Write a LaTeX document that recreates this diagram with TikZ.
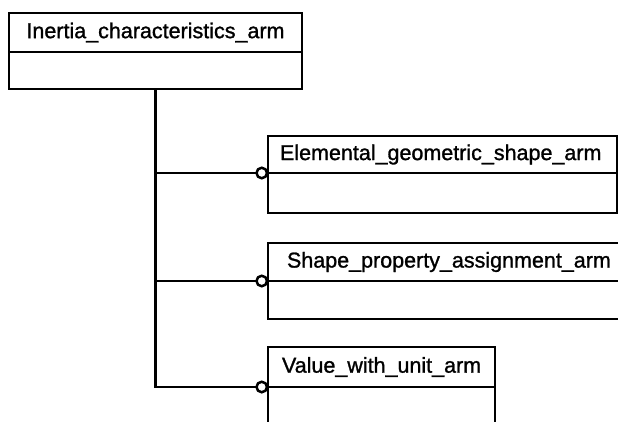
\documentclass[tikz,border=0pt]{standalone}
\usepackage{fontspec}
\setmainfont{Liberation Sans}
\newfontfamily\entfont[FakeBold=1.2]{Liberation Sans}
\usepackage{tikz}
\usetikzlibrary{positioning}

\tikzset{
	entity/.style={draw, line width=2.5pt, inner sep=0pt, outer sep=0pt, font=\entfont\fontsize{21.5}{25}\selectfont},
	ring/.style={circle, draw, fill=white, line width=2.5pt, inner sep=0pt, outer sep=0pt, minimum size=10.5pt, anchor=east},
	conn/.style={line width=2.5pt},
}

\begin{document}
\begin{tikzpicture}[x=1pt, y=-1pt]
		\useasboundingbox (0,0) rectangle (618,422);
		\clip (0,0) rectangle (618,422);
		%coordinates
		\coordinate (ULI) at (9,13);
		\coordinate (ULE) at (268,136);
		\coordinate (ULS) at (268,243);
		\coordinate (ULV) at (268,347);
		
		%nodes
		\node[entity, anchor=north west, minimum width=293, minimum height=39, align=center] (ihead) at (ULI) {Inertia\_characteristics\_arm};
		\node[entity, minimum width=293, minimum height=37, below=0pt of ihead] (ibody) {};
		
		\node[entity, anchor=north west, minimum height=37, inner xsep=12pt, text width=325pt, align=left] (ehead) at (ULE) {Elemental\_geometric\_shape\_arm};
		\node[entity, minimum width=349, minimum height=40, below=0pt of ehead] (ebody) {};
		
		\node[entity, anchor=north west, minimum height=38, inner xsep=19pt, text width=342pt, align=left] (shead) at (ULS) {Shape\_property\_assignment\_arm};
		\node[entity, minimum width=380, minimum height=38, below=0pt of shead] (sbody) {};
		
		\node[entity, anchor=north west, minimum height=40, inner xsep=14pt, text width=199pt, align=left] (vhead) at (ULV) {Value\_with\_unit\_arm};
		\node[entity, minimum width=227, minimum height=60, below=0pt of vhead] (vbody) {};
		
		\node[ring] (ering) at ([xshift=-1pt]ehead.south west) {};
		\node[ring] (sring) at ([xshift=-1pt]shead.south west) {};
		\node[ring] (vring) at ([xshift=-1pt]vhead.south west) {};
		
		\draw[conn] (ibody.south) |- (vring.west);
		\draw[conn] (ibody.south |- ering.west) -- (ering.west);
		\draw[conn] (ibody.south |- sring.west) -- (sring.west);
\end{tikzpicture}
\end{document}
